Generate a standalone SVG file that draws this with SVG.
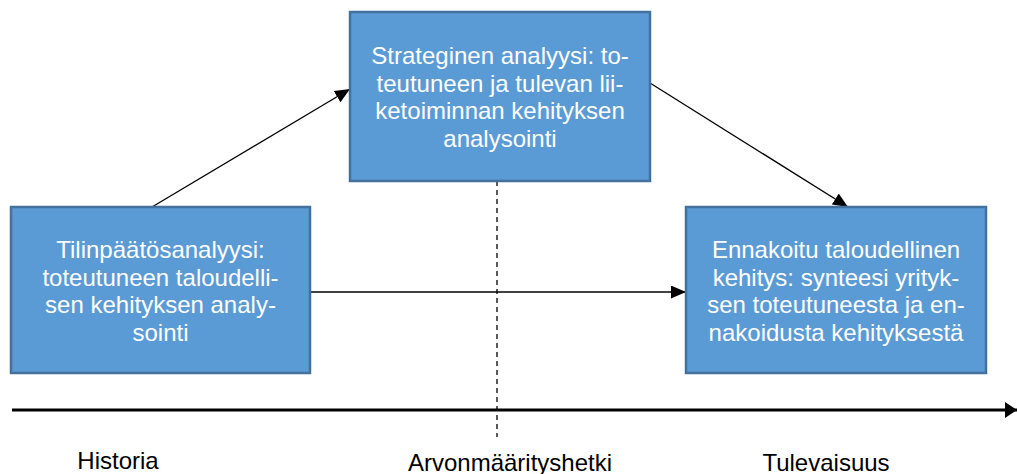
<svg xmlns="http://www.w3.org/2000/svg" width="1017" height="474" viewBox="0 0 1017 474">
<style>
.box{fill:#5B9BD5;stroke:#41719C;stroke-width:2.5}
.bt{font-family:"Liberation Sans",Arial,sans-serif;font-size:24px;fill:#FFFFFF;text-anchor:middle}
.lbl{font-family:"Liberation Sans",Arial,sans-serif;font-size:24px;fill:#000000;text-anchor:middle}
.con{stroke:#000;stroke-width:1.3;fill:none}
</style>
<defs>
<marker id="ah" markerWidth="15" markerHeight="13" refX="15" refY="6.5" orient="auto" markerUnits="userSpaceOnUse" viewBox="0 0 15 13">
<path d="M0,0 L15,6.5 L0,13 Z" fill="#000"/>
</marker>
<marker id="ahb" markerWidth="12" markerHeight="16" refX="12" refY="8" orient="auto" markerUnits="userSpaceOnUse" viewBox="0 0 12 16">
<path d="M0,0 L12,8 L0,16 Z" fill="#000"/>
</marker>
</defs>
<g id="connectors">
<line class="con" x1="497" y1="181" x2="497" y2="437" stroke-dasharray="5,4"/>
<line x1="12" y1="410" x2="1017" y2="410" stroke="#000" stroke-width="3" marker-end="url(#ahb)"/>
<line class="con" x1="152" y1="207" x2="350" y2="89" marker-end="url(#ah)"/>
<line class="con" x1="650" y1="83" x2="848" y2="207" marker-end="url(#ah)"/>
<line class="con" x1="310" y1="292" x2="686" y2="292" marker-end="url(#ah)"/>
</g>
<g id="node-strateginen">
<rect class="box" x="350" y="12" width="300" height="169"/>
<text class="bt" x="500" y="64">Strateginen analyysi: to-</text>
<text class="bt" x="500" y="91.5">teutuneen ja tulevan lii-</text>
<text class="bt" x="500" y="119">ketoiminnan kehityksen</text>
<text class="bt" x="500" y="146.5">analysointi</text>
</g>
<g id="node-tilinpaatos">
<rect class="box" x="11" y="207" width="299" height="166"/>
<text class="bt" x="160.5" y="258">Tilinpäätösanalyysi:</text>
<text class="bt" x="160.5" y="285.5">toteutuneen taloudelli-</text>
<text class="bt" x="160.5" y="313">sen kehityksen analy-</text>
<text class="bt" x="160.5" y="340.5">sointi</text>
</g>
<g id="node-ennakoitu">
<rect class="box" x="686" y="207" width="300" height="166"/>
<text class="bt" x="836" y="258">Ennakoitu taloudellinen</text>
<text class="bt" x="836" y="285.5">kehitys: synteesi yrityk-</text>
<text class="bt" x="836" y="313">sen toteutuneesta ja en-</text>
<text class="bt" x="836" y="340.5">nakoidusta kehityksestä</text>
</g>
<g id="labels">
<text class="lbl" x="118" y="469">Historia</text>
<text class="lbl" x="510" y="471">Arvonmäärityshetki</text>
<text class="lbl" x="826" y="471">Tulevaisuus</text>
</g>
</svg>
